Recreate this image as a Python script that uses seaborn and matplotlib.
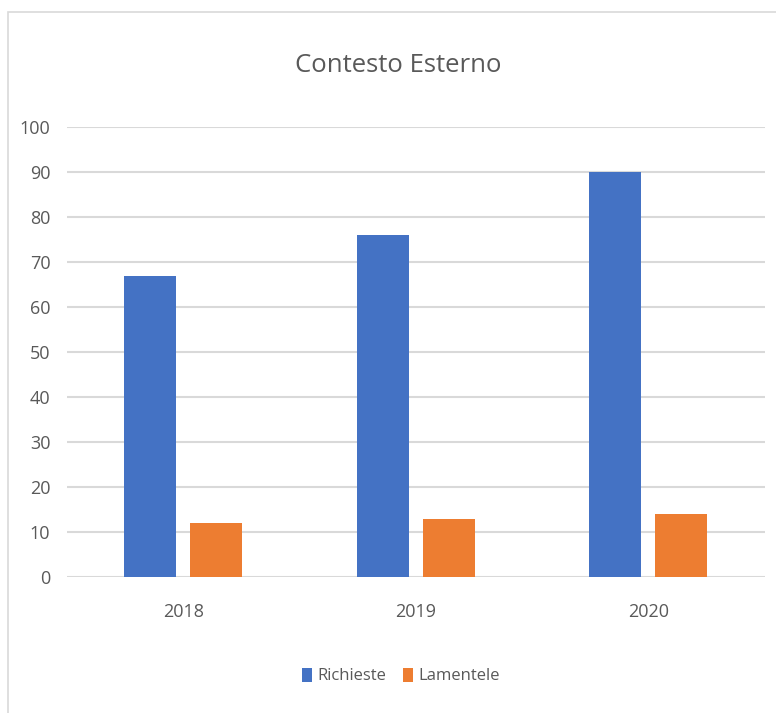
import matplotlib
matplotlib.use("Agg")
import matplotlib.pyplot as plt
import seaborn as sns
import pandas as pd
from matplotlib.patches import Rectangle

years = ["2018", "2019", "2020"]
richieste = [67, 76, 90]
lamentele = [12, 13, 14]
series_names = ["Richieste", "Lamentele"]
yticks = list(range(0, 101, 10))
title = "Contesto Esterno"

df = pd.DataFrame({
    "Anno": years * 2,
    "Valore": richieste + lamentele,
    "Serie": [series_names[0]] * 3 + [series_names[1]] * 3,
})

sns.set_theme(style="white")
plt.rcParams["font.family"] = ["Open Sans", "DejaVu Sans"]
txt = "#595959"

fig = plt.figure(figsize=(7.76, 7.13), dpi=100)
ax = fig.add_axes([67/776, 1-577/713, (764.5-67)/776, (577-127)/713])

sns.barplot(data=df, x="Anno", y="Valore", hue="Serie", order=years,
            hue_order=series_names, palette=["#4472C4", "#ED7D31"],
            saturation=1, width=0.568, gap=0.21, linewidth=0,
            edgecolor="none", ax=ax, legend=True)

ax.set_ylim(0, 100)
ax.set_xlim(-0.5, 2.5)
ax.set_yticks(yticks)
ax.set_yticklabels([str(t) for t in yticks], color=txt, fontsize=13)
ax.tick_params(axis="x", colors=txt, labelsize=13, length=0, pad=19)
ax.tick_params(axis="y", length=0, pad=12)
for lab in ax.get_xticklabels():
    lab.set_color(txt)
ax.set_xlabel("")
ax.set_ylabel("")
ax.grid(axis="y", color="#d9d9d9", linewidth=1.5)
ax.set_axisbelow(True)
for s in ax.spines.values():
    s.set_visible(False)

fig.text(398/776, 1-66/713, title, ha="center", va="center", fontsize=18.5, color=txt)

leg = ax.legend(loc="center", bbox_to_anchor=(401/776, 1-676/713),
                bbox_transform=fig.transFigure, ncol=2, frameon=False,
                fontsize=12, handlelength=0.6, handleheight=0.9,
                handletextpad=0.3, columnspacing=1.0)
for t in leg.get_texts():
    t.set_color(txt)

fig.patches.append(Rectangle((8/776, -0.1), 1.2, 1-12/713 + 0.1,
                             transform=fig.transFigure, fill=False,
                             edgecolor="#d9d9d9", linewidth=1.2))

fig.savefig("out.png", dpi=100)
